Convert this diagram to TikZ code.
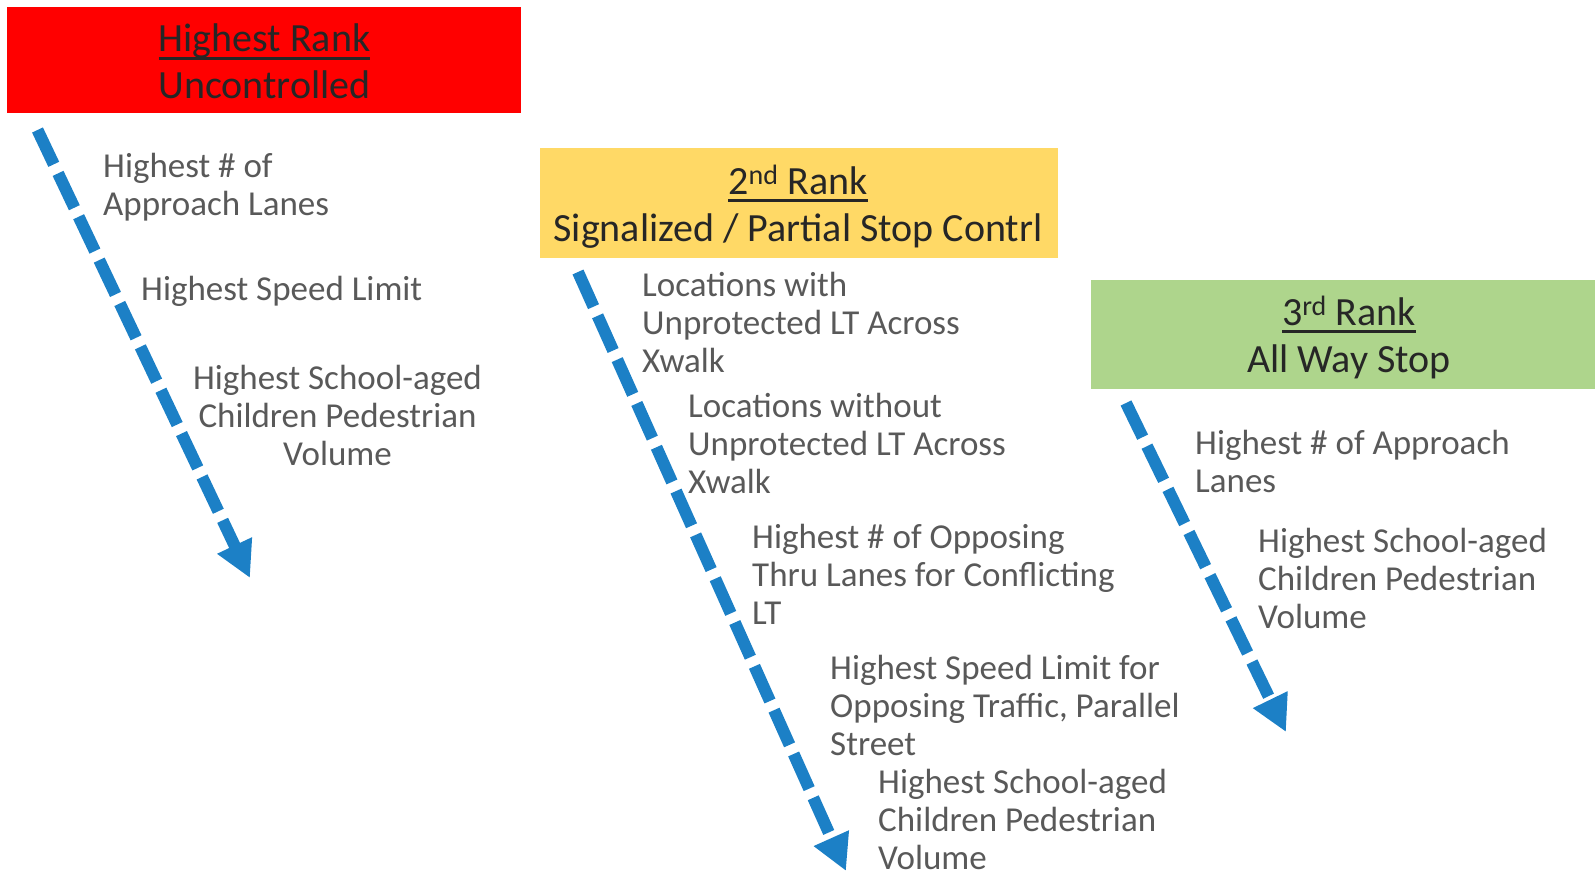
\documentclass[tikz,border=0pt]{standalone}
\usepackage{fontspec}
\setmainfont{Carlito}
\usetikzlibrary{arrows.meta}
\definecolor{rankred}{HTML}{FF0000}
\definecolor{rankgold}{HTML}{FFD966}
\definecolor{rankgreen}{HTML}{AED58C}
\definecolor{flowblue}{HTML}{1C80C6}
\definecolor{hdrgray}{HTML}{262626}
\definecolor{critgray}{HTML}{595959}
% thick underline for the rank titles
\newcommand\rankline[1]{\sbox0{#1}\rlap{\rule[-8pt]{\wd0}{2.6pt}}\usebox0}
\begin{document}
\begin{tikzpicture}[x=1pt,y=-1pt,
    rankbox/.style={rectangle, inner sep=0pt, anchor=north west},
    ranktext/.style={anchor=base, align=center, inner sep=0pt, text=hdrgray, font=\fontsize{40}{47}\selectfont},
    crit/.style={anchor=base west, align=left, inner sep=0pt, text=critgray, font=\fontsize{35}{38}\selectfont},
    flow/.style={draw=flowblue, line width=12pt, dash pattern=on 38pt off 10pt, -{Triangle[length=36pt,width=36pt]}}]
    \useasboundingbox (0,0) rectangle (1595,872);
    %rank boxes
    \node[rankbox, fill=rankred, minimum width=514pt, minimum height=106pt] (box1) at (7,7) {};
    \node[rankbox, fill=rankgold, minimum width=518pt, minimum height=110pt] (box2) at (540,148) {};
    \node[rankbox, fill=rankgreen, minimum width=504pt, minimum height=109pt] (box3) at (1091,280) {};
    %text sits on the baseline of its last line
    \node[ranktext] (rank1) at (264.5,99) {\rankline{Highest Rank}\\Uncontrolled};
    \node[ranktext] (rank2) at (798,241) {\rankline{2\textsuperscript{nd} Rank}\\Signalized / Partial Stop Contrl};
    \node[ranktext] (rank3) at (1349,372) {\rankline{3\textsuperscript{rd} Rank}\\All Way Stop};
    %draw arrows
    \coordinate (s1) at (37.5,130);
    \coordinate (e1) at (250,578);
    \coordinate (s2) at (578,272);
    \coordinate (e2) at (846,871);
    \coordinate (s3) at (1126,403);
    \coordinate (e3) at (1286,732);
    \foreach \i in {1,2,3}
        {%
            \draw[flow] (s\i) -- (e\i);
        }
    %criteria, first column
    \node[crit] (c1a) at (103,215) {Highest \# of\\Approach Lanes};
    \node[crit] (c1b) at (141,300) {Highest Speed Limit};
    \node[crit, anchor=base, align=center] (c1c) at (337.5,465) {Highest School-aged\\Children Pedestrian\\Volume};
    %criteria, second column
    \node[crit] (c2a) at (642,372) {Locations with\\Unprotected LT Across\\Xwalk};
    \node[crit] (c2b) at (688,493) {Locations without\\Unprotected LT Across\\Xwalk};
    \node[crit] (c2c) at (752,624) {Highest \# of Opposing\\Thru Lanes for Conflicting\\LT};
    \node[crit] (c2d) at (830,755) {Highest Speed Limit for\\Opposing Traffic, Parallel\\Street};
    \node[crit] (c2e) at (878,869) {Highest School-aged\\Children Pedestrian\\Volume};
    %criteria, third column
    \node[crit] (c3a) at (1195,492) {Highest \# of Approach\\Lanes};
    \node[crit] (c3b) at (1258,628) {Highest School-aged\\Children Pedestrian\\Volume};
\end{tikzpicture}
\end{document}
